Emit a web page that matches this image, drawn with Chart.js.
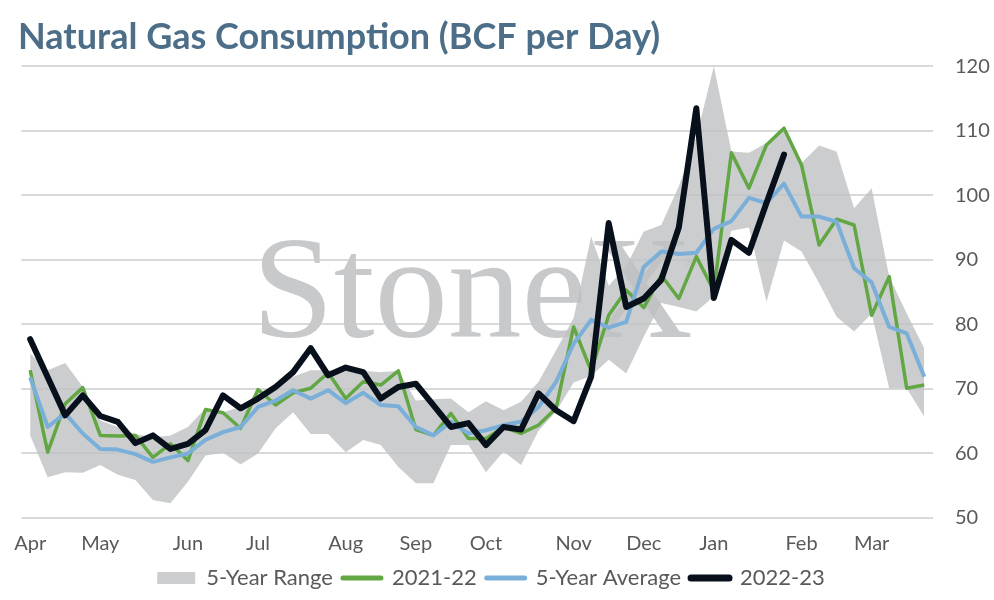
<!DOCTYPE html>
<html>
<head>
<meta charset="utf-8">
<script src="https://cdn.jsdelivr.net/npm/chart.js@4.4.1/dist/chart.umd.min.js"></script>
<style>
  html, body { margin: 0; padding: 0; background: #fff; }
  #wrap { width: 994px; height: 600px; position: relative; }
</style>
</head>
<body>
<div id="wrap"><canvas id="gas-chart"></canvas></div>
<script>
// -------------------------
// DATA (weekly, Apr -> Mar, BCF/d)
// -------------------------
const weeks = [
  'Apr', '', '', '', 'May', '', '', '', '', 'Jun', '', '', '',
  'Jul', '', '', '', '', 'Aug', '', '', '', 'Sep', '', '', '',
  'Oct', '', '', '', '', 'Nov', '', '', '', 'Dec', '', '', '',
  'Jan', '', '', '', '', 'Feb', '', '', '', 'Mar', '', '', ''
];
const rangeLow = [
  62.8, 56.3, 57.1, 57.0, 58.2, 56.7, 55.9, 52.8, 52.3, 55.6, 59.7, 60.1, 58.3,
  60.0, 63.9, 66.4, 63.0, 63.0, 60.2, 62.1, 61.3, 57.9, 55.4, 55.4, 61.3, 61.3,
  57.1, 60.3, 58.2, 63.5, 66.5, 71.0, 72.0, 74.5, 72.4, 78.1, 83.3, 82.7, 82.0,
  84.3, 94.5, 95.0, 83.5, 93.0, 91.3, 86.4, 81.2, 78.9, 81.7, 70.1, 70.1, 65.7
];
const rangeHigh = [
  75.5, 72.9, 74.0, 70.3, 65.1, 64.1, 63.0, 62.5, 62.8, 64.1, 67.0, 66.4, 67.2,
  69.3, 70.8, 71.9, 72.9, 72.9, 72.8, 72.8, 72.6, 72.8, 68.2, 68.4, 68.5, 66.4,
  68.1, 66.7, 68.0, 71.1, 76.0, 81.0, 93.6, 86.0, 89.0, 94.4, 95.4, 101.4, 109.0,
  120.0, 106.8, 106.6, 108.1, 110.4, 105.0, 107.7, 106.8, 98.0, 101.1, 87.4, 81.7, 76.3
];
const season2122 = [
  72.9, 60.2, 67.7, 70.2, 62.8, 62.7, 62.8, 59.4, 61.5, 58.9, 66.8, 66.3, 63.9,
  69.9, 67.5, 69.4, 70.1, 72.5, 68.5, 71.1, 70.6, 72.8, 63.7, 62.8, 66.2, 62.3,
  62.3, 64.1, 63.1, 64.4, 67.0, 79.6, 72.8, 81.4, 85.3, 82.6, 87.6, 84.0, 90.5,
  85.2, 106.6, 101.1, 107.8, 110.4, 104.7, 92.3, 96.3, 95.4, 81.4, 87.4, 70.1, 70.6
];
const avg5y = [
  71.8, 64.1, 66.2, 63.1, 60.7, 60.6, 59.9, 58.7, 59.4, 60.0, 62.1, 63.3, 64.1,
  67.2, 68.2, 69.8, 68.5, 69.8, 67.8, 69.4, 67.5, 67.3, 64.1, 62.8, 64.9, 63.1,
  63.6, 64.4, 64.9, 67.2, 71.1, 77.0, 80.7, 79.5, 80.4, 88.9, 91.3, 90.9, 91.1,
  94.8, 96.0, 99.6, 98.8, 101.8, 96.7, 96.7, 95.9, 88.7, 86.5, 79.6, 78.6, 71.9
];
const season2223 = [
  77.7, 71.8, 65.9, 69.0, 65.8, 64.9, 61.6, 62.8, 60.7, 61.5, 63.6, 69.0, 67.0,
  68.5, 70.3, 72.6, 76.3, 72.1, 73.3, 72.6, 68.5, 70.3, 70.8, 67.5, 64.1, 64.7,
  61.3, 64.1, 63.7, 69.3, 66.7, 65.0, 71.9, 95.7, 82.7, 84.0, 86.9, 95.0, 113.5,
  84.1, 93.1, 91.1, 98.8, 106.3
];
const yMin = 50, yMax = 120, yStep = 10;

// -------------------------
// Styles
// -------------------------
const bandColor = 'rgba(190,192,194,0.8)';
const bandLegend = '#cbcdce';
const greenColor = '#62a744';
const blueColor = '#7aafd9';
const blackColor = '#08101b';
const textColor = '#595959';
const tickFont = { family: 'Lato', size: 20 };
const legendFont = { family: 'Lato', size: 22 };

// StoneX watermark behind the series
const watermark = {
  id: 'watermark',
  beforeDatasetsDraw(chart) {
    const { ctx } = chart;
    ctx.save();
    ctx.fillStyle = '#c8c9cb';
    ctx.textBaseline = 'alphabetic';
    ctx.font = '147px "Liberation Serif"';
    ctx.fillText('StoneX', 252, 337);
    ctx.font = '18px "Liberation Serif"';
    ctx.fillText('\u00AE', 683, 268);
    ctx.restore();
  }
};

// legend sits a little left of centre in the original
const legendNudge = {
  id: 'legendNudge',
  afterLayout(chart) {
    if (chart.legend) chart.legend.left -= 26;
  }
};

const ctx = document.getElementById('gas-chart').getContext('2d');
new Chart(ctx, {
  type: 'line',
  data: {
    labels: weeks,
    datasets: [
      { label: 'range-low', data: rangeLow, borderWidth: 0, pointRadius: 0, fill: false, order: 4 },
      { label: '5-Year Range', data: rangeHigh, borderWidth: 0, pointRadius: 0, fill: '-1',
        backgroundColor: bandColor, order: 3 },
      { label: '2021-22', data: season2122, borderColor: greenColor, borderWidth: 3.5,
        borderJoinStyle: 'round', pointRadius: 0, tension: 0, order: 2, legendWidth: 5 },
      { label: '5-Year Average', data: avg5y, borderColor: blueColor, borderWidth: 4,
        borderJoinStyle: 'round', pointRadius: 0, tension: 0, order: 1, legendWidth: 5 },
      { label: '2022-23', data: season2223, borderColor: blackColor, borderWidth: 6,
        borderJoinStyle: 'round', borderCapStyle: 'round',
        pointRadius: 0, tension: 0, order: 0, legendWidth: 7 }
    ]
  },
  options: {
    responsive: true,
    maintainAspectRatio: false,
    animation: false,
    layout: { padding: { left: 18, right: 4, top: 0, bottom: 1 } },
    scales: {
      x: {
        offset: true,
        grid: { display: false, drawTicks: false },
        border: { display: false },
        ticks: { autoSkip: false, maxRotation: 0, color: textColor, font: tickFont, padding: 14 },
        afterFit(scale) { scale.height -= 13; }
      },
      y: {
        position: 'right',
        min: yMin, max: yMax,
        grid: { color: '#d9d9d9', lineWidth: 2, drawTicks: false },
        border: { display: false },
        ticks: { stepSize: yStep, color: textColor, font: tickFont, padding: 22 },
        afterFit(scale) { scale.width = 57; }
      }
    },
    plugins: {
      title: {
        display: true,
        text: 'Natural Gas Consumption (BCF per Day)',
        align: 'start',
        color: '#4d6e88',
        font: { family: 'Lato', size: 36, weight: 'bold' },
        padding: { top: 16, bottom: 7 }
      },
      legend: {
        position: 'bottom',
        labels: {
          usePointStyle: true,
          pointStyleWidth: 38,
          boxHeight: 12,
          padding: 10,
          color: textColor,
          font: legendFont,
          generateLabels(chart) {
            const items = Chart.defaults.plugins.legend.labels.generateLabels(chart);
            return items
              .filter(it => it.datasetIndex > 0)
              .map(it => {
                const ds = chart.data.datasets[it.datasetIndex];
                if (ds.fill) {
                  return { ...it, pointStyle: 'rect', fillStyle: bandLegend, strokeStyle: bandLegend, lineWidth: 0 };
                }
                return { ...it, pointStyle: 'line', strokeStyle: ds.borderColor, lineWidth: ds.legendWidth, lineCap: 'round' };
              })
              .sort((a, b) => a.datasetIndex - b.datasetIndex);
          }
        }
      },
      tooltip: { enabled: false }
    }
  },
  plugins: [watermark, legendNudge]
});
</script>
</body>
</html>
